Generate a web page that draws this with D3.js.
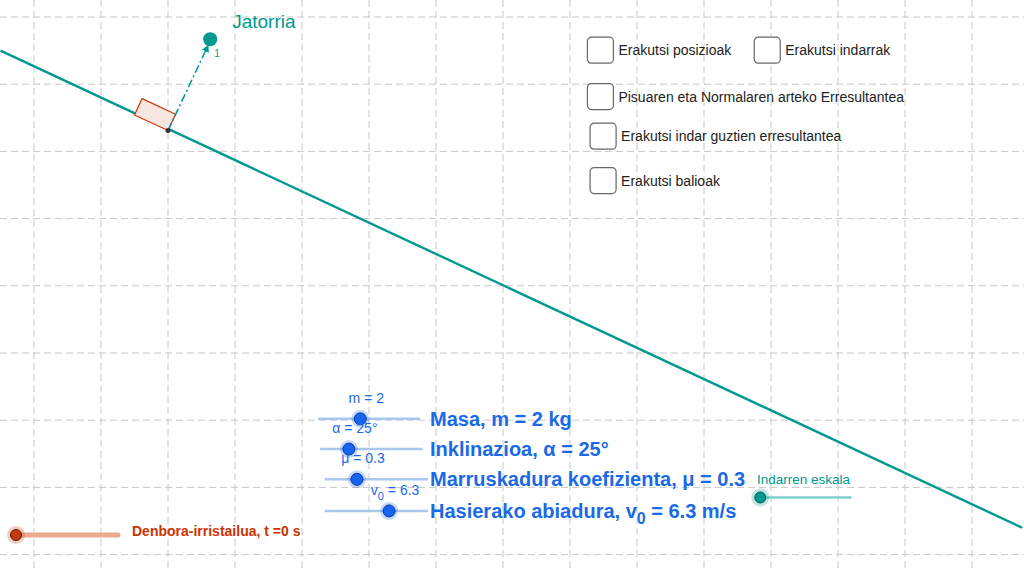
<!DOCTYPE html>
<html><head><meta charset="utf-8">
<script src="https://cdn.jsdelivr.net/npm/d3@7"></script>
<style>body{margin:0;background:#fff}svg{display:block;font-family:"Liberation Sans",Arial,sans-serif}</style>
</head><body>
<svg id="c" width="1024" height="568"></svg>
<script>
// grid units (1 unit = 67px), origin at first grid crossing
const gridX = d3.range(0, 15);
const gridY = d3.range(0, 9);
const incline = [[-0.5, 0.5], [14.75, 7.6]];
const blockCorner = [2, 1.69];
const originPoint = [2.63, 0.33];
const checkboxes = [
  {label: "Erakutsi posizioak", x: 8.26, y: 0.3},
  {label: "Erakutsi indarrak", x: 10.75, y: 0.3},
  {label: "Pisuaren eta Normalaren arteko Erresultantea", x: 8.26, y: 0.99},
  {label: "Erakutsi indar guztien erresultantea", x: 8.3, y: 1.58},
  {label: "Erakutsi balioak", x: 8.3, y: 2.24}
];
const sliders = [
  {name: "m = 2", text: "Masa, m = 2 kg", x0: 4.24, x1: 5.76, y: 5.98, knob: 4.87},
  {name: "α = 25°", text: "Inklinazioa, α = 25°", x0: 4.27, x1: 5.8, y: 6.43, knob: 4.7},
  {name: "μ = 0.3", text: "Marruskadura koefizienta, μ = 0.3", x0: 4.34, x1: 5.88, y: 6.88, knob: 4.82},
  {name: "v0", text: "Hasierako abiadura, v0", x0: 4.34, x1: 5.88, y: 7.35, knob: 5.3}
];

const x = d3.scaleLinear().domain([0, 1]).range([34, 101]);
const y = d3.scaleLinear().domain([0, 1]).range([17, 84.2]);
const svg = d3.select("#c");

svg.append("g").selectAll("line").data(gridX).join("line")
  .attr("x1", d => x(d)).attr("x2", d => x(d)).attr("y1", 0).attr("y2", 568)
  .attr("stroke", "#c8c8c8").attr("stroke-dasharray", "7,4");
svg.append("g").selectAll("line").data(gridY).join("line")
  .attr("y1", d => y(d)).attr("y2", d => y(d)).attr("x1", 0).attr("x2", 1024)
  .attr("stroke", "#c8c8c8").attr("stroke-dasharray", "7,4");

svg.append("line").attr("x1", x(incline[0][0])).attr("y1", y(incline[0][1]))
  .attr("x2", x(incline[1][0])).attr("y2", y(incline[1][1]))
  .attr("stroke", "#009990").attr("stroke-width", 2.4);

// block
const bx = x(blockCorner[0]), by = y(blockCorner[1]);
svg.append("rect").attr("x", -37).attr("y", -18).attr("width", 37).attr("height", 18)
  .attr("transform", `translate(${bx},${by}) rotate(25)`)
  .attr("fill", "#f7e6df").attr("stroke", "#c23b0c").attr("stroke-width", 1.2);

// position vector
const ox = x(originPoint[0]), oy = y(originPoint[1]);
svg.append("defs").append("marker").attr("id", "ar").attr("viewBox", "0 0 10 10")
  .attr("refX", 9).attr("refY", 5).attr("markerWidth", 5).attr("markerHeight", 5).attr("orient", "auto")
  .append("path").attr("d", "M0,0L10,5L0,10z").attr("fill", "#009990");
svg.append("line").attr("x1", bx).attr("y1", by).attr("x2", ox - 2).attr("y2", oy + 6)
  .attr("stroke", "#009990").attr("stroke-width", 1.5).attr("stroke-dasharray", "8,3,2,3")
  .attr("marker-end", "url(#ar)");
svg.append("text").attr("x", ox + 4).attr("y", oy + 18).attr("font-size", 10).attr("fill", "#009990").text("1");
svg.append("circle").attr("cx", bx).attr("cy", by).attr("r", 2.5).attr("fill", "#333");
svg.append("circle").attr("cx", ox).attr("cy", oy).attr("r", 7).attr("fill", "#009990");
svg.append("text").attr("x", ox + 22).attr("y", oy - 11).attr("font-size", 19).attr("fill", "#009990").text("Jatorria");

// checkboxes
const cb = svg.append("g").selectAll("g").data(checkboxes).join("g")
  .attr("transform", d => `translate(${x(d.x)},${y(d.y)})`);
cb.append("rect").attr("width", 26).attr("height", 26).attr("rx", 4)
  .attr("fill", "#fff").attr("stroke", "#666").attr("stroke-width", 1.2);
cb.append("text").attr("x", 31).attr("y", 18).attr("font-size", 14).attr("fill", "#222").text(d => d.label);

// sliders
const sg = svg.append("g").selectAll("g").data(sliders).join("g");
sg.append("line").attr("x1", d => x(d.x0)).attr("x2", d => x(d.x1)).attr("y1", d => y(d.y)).attr("y2", d => y(d.y))
  .attr("stroke", "#a9c8f0").attr("stroke-width", 2.5);
sg.append("circle").attr("cx", d => x(d.knob)).attr("cy", d => y(d.y)).attr("r", 9).attr("fill", "#1a5fe0").attr("opacity", 0.25);
sg.append("circle").attr("cx", d => x(d.knob)).attr("cy", d => y(d.y)).attr("r", 6).attr("fill", "#1565f0").attr("stroke", "#0a3a9a");
sg.append("text").attr("x", d => x(d.knob) + 6).attr("y", d => y(d.y) - 16).attr("text-anchor", "middle")
  .attr("font-size", 14).attr("fill", "#1a6ae8")
  .each(function(d) {
    const t = d3.select(this);
    if (d.name === "v0") { t.text("v"); t.append("tspan").attr("dy", 5).attr("font-size", 11).text("0"); t.append("tspan").attr("dy", -5).text(" = 6.3"); }
    else t.text(d.name);
  });
sg.append("text").attr("x", 430).attr("y", d => y(d.y) + 7).attr("font-size", 20).attr("font-weight", "bold").attr("fill", "#1a6ae8")
  .each(function(d) {
    const t = d3.select(this);
    if (d.name === "v0") { t.text("Hasierako abiadura, v"); t.append("tspan").attr("dy", 6).attr("font-size", 16).text("0"); t.append("tspan").attr("dy", -6).text(" = 6.3 m/s"); }
    else t.text(d.text);
  });

// force scale slider
svg.append("line").attr("x1", x(10.84)).attr("x2", x(12.2)).attr("y1", y(7.15)).attr("y2", y(7.15)).attr("stroke", "#7fd0cc").attr("stroke-width", 2.5);
svg.append("circle").attr("cx", x(10.84)).attr("cy", y(7.15)).attr("r", 9).attr("fill", "#009990").attr("opacity", 0.25);
svg.append("circle").attr("cx", x(10.84)).attr("cy", y(7.15)).attr("r", 5.5).attr("fill", "#009990").attr("stroke", "#005a55");
svg.append("text").attr("x", 757).attr("y", 484).attr("font-size", 13.5).attr("fill", "#009990").text("Indarren eskala");

// time slider
svg.append("line").attr("x1", 16).attr("x2", 118).attr("y1", 535).attr("y2", 535).attr("stroke", "#eda890").attr("stroke-width", 5).attr("stroke-linecap", "round");
svg.append("circle").attr("cx", 16).attr("cy", 535).attr("r", 9).attr("fill", "#c23b0c").attr("opacity", 0.25);
svg.append("circle").attr("cx", 16).attr("cy", 535).attr("r", 5.5).attr("fill", "#c23b0c").attr("stroke", "#5a1a00");
svg.append("text").attr("x", 132).attr("y", 536).attr("font-size", 14).attr("font-weight", "bold").attr("fill", "#cc3300").text("Denbora-irristailua, t =0 s");
</script>
</body></html>
